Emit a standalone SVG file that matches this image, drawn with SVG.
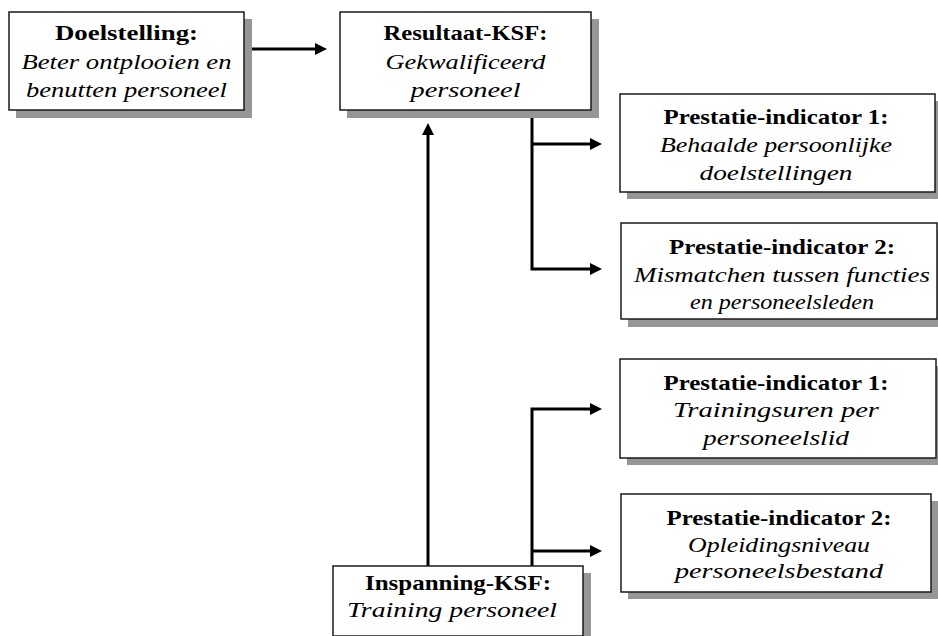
<svg xmlns="http://www.w3.org/2000/svg" width="938" height="636" viewBox="0 0 938 636">
<style>
.shadow{fill:#969696;stroke:none}
.box{fill:#ffffff;stroke:#1a1a1a;stroke-width:1.5}
.t{font-family:"Liberation Serif","Times New Roman",serif;font-size:22px;fill:#000;text-anchor:middle}
.b{font-weight:bold}
.i{font-style:italic}
.c{stroke:#000;stroke-width:3;fill:none}
</style>
<defs>
<marker id="ah" markerUnits="userSpaceOnUse" markerWidth="12" markerHeight="12" viewBox="0 0 12 12" refX="1" refY="6" orient="auto">
<path d="M0,0 L12,6 L0,12 z" fill="#000"/>
</marker>
</defs>
<rect width="938" height="636" fill="#fff"/>
<g id="connectors">
<line class="c" x1="251" y1="49" x2="316" y2="49" marker-end="url(#ah)"/>
<line class="c" x1="428" y1="566" x2="428" y2="134" marker-end="url(#ah)"/>
<polyline class="c" points="532,110 532,269 591,269" marker-end="url(#ah)"/>
<line class="c" x1="532" y1="144" x2="591" y2="144" marker-end="url(#ah)"/>
<polyline class="c" points="532,566 532,409 591,409" marker-end="url(#ah)"/>
<line class="c" x1="532" y1="551" x2="591" y2="551" marker-end="url(#ah)"/>
</g>
<g id="doelstelling">
<rect class="shadow" x="16" y="19" width="236" height="99"/>
<rect class="box" x="9" y="12" width="235" height="98"/>
<text class="t b" x="126.5" y="40" textLength="143" lengthAdjust="spacingAndGlyphs">Doelstelling:</text>
<text class="t i" x="126.5" y="68.5" textLength="210" lengthAdjust="spacingAndGlyphs">Beter ontplooien en</text>
<text class="t i" x="126.5" y="97" textLength="201" lengthAdjust="spacingAndGlyphs">benutten personeel</text>
</g>
<g id="resultaat-ksf">
<rect class="shadow" x="347" y="19" width="252" height="99"/>
<rect class="box" x="340" y="12" width="251" height="98"/>
<text class="t b" x="465.5" y="40" textLength="164" lengthAdjust="spacingAndGlyphs">Resultaat-KSF:</text>
<text class="t i" x="465.5" y="68.5" textLength="160" lengthAdjust="spacingAndGlyphs">Gekwalificeerd</text>
<text class="t i" x="465.5" y="97" textLength="110" lengthAdjust="spacingAndGlyphs">personeel</text>
</g>
<g id="pi1-resultaat">
<rect class="shadow" x="627" y="101" width="316" height="98"/>
<rect class="box" x="620" y="94" width="315" height="98"/>
<text class="t b" x="776" y="124" textLength="225" lengthAdjust="spacingAndGlyphs">Prestatie-indicator 1:</text>
<text class="t i" x="776" y="152" textLength="232" lengthAdjust="spacingAndGlyphs">Behaalde persoonlijke</text>
<text class="t i" x="776" y="180" textLength="153" lengthAdjust="spacingAndGlyphs">doelstellingen</text>
</g>
<g id="pi2-resultaat">
<rect class="shadow" x="628" y="230" width="316" height="97"/>
<rect class="box" x="621" y="223" width="316" height="96"/>
<text class="t b" x="782" y="254" textLength="226" lengthAdjust="spacingAndGlyphs">Prestatie-indicator 2:</text>
<text class="t i" x="782" y="282" textLength="296" lengthAdjust="spacingAndGlyphs">Mismatchen tussen functies</text>
<text class="t i" x="782" y="309" textLength="184" lengthAdjust="spacingAndGlyphs">en personeelsleden</text>
</g>
<g id="pi1-inspanning">
<rect class="shadow" x="627" y="366" width="316" height="99"/>
<rect class="box" x="620" y="359" width="316" height="99"/>
<text class="t b" x="776" y="390" textLength="225" lengthAdjust="spacingAndGlyphs">Prestatie-indicator 1:</text>
<text class="t i" x="776" y="417" textLength="206" lengthAdjust="spacingAndGlyphs">Trainingsuren per</text>
<text class="t i" x="776" y="445" textLength="146" lengthAdjust="spacingAndGlyphs">personeelslid</text>
</g>
<g id="pi2-inspanning">
<rect class="shadow" x="628" y="501" width="310" height="98"/>
<rect class="box" x="621" y="494" width="310" height="98"/>
<text class="t b" x="779" y="525" textLength="225" lengthAdjust="spacingAndGlyphs">Prestatie-indicator 2:</text>
<text class="t i" x="779" y="552" textLength="182" lengthAdjust="spacingAndGlyphs">Opleidingsniveau</text>
<text class="t i" x="779" y="578" textLength="208" lengthAdjust="spacingAndGlyphs">personeelsbestand</text>
</g>
<g id="inspanning-ksf">
<rect class="shadow" x="340" y="573" width="251" height="70"/>
<rect class="box" x="333" y="566" width="250" height="70"/>
<text class="t b" x="458" y="590" textLength="186" lengthAdjust="spacingAndGlyphs">Inspanning-KSF:</text>
<text class="t i" x="452" y="617" textLength="210" lengthAdjust="spacingAndGlyphs">Training personeel</text>
</g>
</svg>
